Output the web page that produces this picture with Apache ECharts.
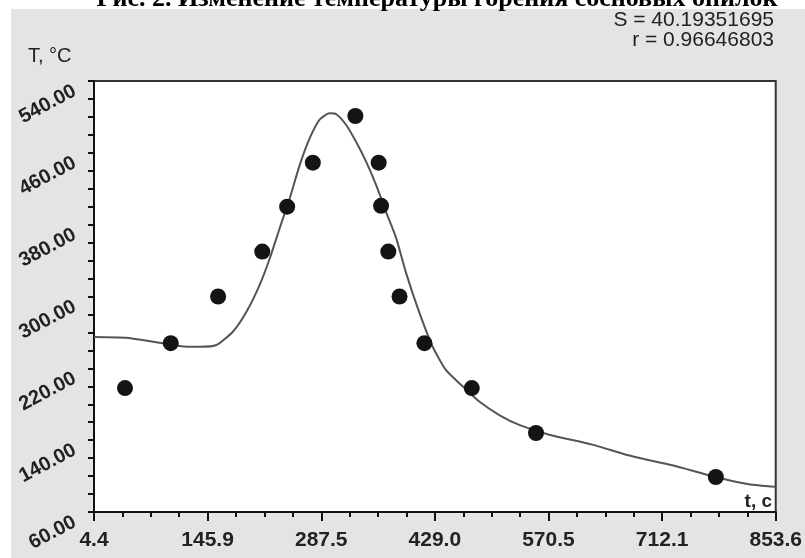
<!DOCTYPE html>
<html>
<head>
<meta charset="utf-8">
<script src="https://cdn.jsdelivr.net/npm/echarts@6/dist/echarts.min.js"></script>
<style>
  html, body { margin: 0; padding: 0; background: #fff; }
  #chart { width: 805px; height: 558px; }
</style>
</head>
<body>
<div id="chart"></div>
<script>
// measured points (time, s / temperature, °C)
const pointT = [43, 100, 159, 214, 245, 277, 330, 359, 362, 371, 385, 416, 475, 555, 779]
const pointTemp = [198, 248, 300, 350, 400, 449, 501, 449, 401, 350, 300, 248, 198, 148, 99]

// fitted curve
const curveT = [4.4, 45, 111, 136, 157, 177.6, 194.3, 210.8, 223.2, 235.7, 248.1, 260.5, 273, 285.4,
  297.8, 306.2, 318.6, 331, 343.5, 355.9, 368.3, 380.8, 393.2, 409.7, 426.3, 442.9, 463.6, 484.3,
  509.2, 534.1, 571.4, 625.2, 674.9, 724.7, 778.6, 820, 853.6]
const curveTemp = [255, 254, 245, 244, 246, 261, 283, 313, 342, 376, 409, 446, 476, 497,
  504, 503, 491, 472, 450, 424, 394, 365, 326, 282, 244, 218, 200, 183,
  168, 157, 146, 135, 122, 112, 99, 91, 88]

// axis ticks
const xTicks = [4.4, 145.9, 287.5, 429.0, 570.5, 712.1, 853.6]
const yTicks = [60, 140, 220, 300, 380, 460, 540]

const titleText = 'Рис. 2. Изменение температуры горения сосновых опилок'
const statS = 'S = 40.19351695'
const statR = 'r = 0.96646803'

function subdivide(ticks, parts) {
  const out = []
  for (let i = 0; i < ticks.length - 1; i++) {
    const step = (ticks[i + 1] - ticks[i]) / parts
    for (let k = 1; k < parts; k++) out.push(ticks[i] + step * k)
  }
  return out
}

const xMinor = subdivide(xTicks, 4)
const yAllTicks = yTicks.concat(subdivide(yTicks, 4))

const labelFont = '"Liberation Sans", Arial, sans-serif'

const chart = echarts.init(document.getElementById('chart'))

chart.setOption({
  animation: false,
  backgroundColor: '#e4e4e4',
  grid: {
    left: 94, right: 28, top: 81, bottom: 46,
    show: true,
    backgroundColor: '#fff',
    borderColor: '#333',
    borderWidth: 2,
  },
  xAxis: [{
    type: 'value',
    position: 'bottom',
    min: 4.4,
    max: 853.6,
    axisLine: { onZero: false, lineStyle: { color: '#111', width: 2 } },
    axisTick: { customValues: xTicks, length: 9, lineStyle: { color: '#111', width: 2 } },
    axisLabel: {
      customValues: xTicks,
      formatter: v => v.toFixed(1),
      margin: 18,
      fontFamily: labelFont,
      fontWeight: 'bold',
      fontSize: 21,
      color: '#222',
    },
    splitLine: { show: false },
  }, {
    type: 'value',
    position: 'bottom',
    min: 4.4,
    max: 853.6,
    axisLine: { show: false },
    axisTick: { customValues: xMinor, length: 5, lineStyle: { color: '#111', width: 2 } },
    axisLabel: { show: false },
    splitLine: { show: false },
  }],
  yAxis: {
    type: 'value',
    min: 60,
    max: 540,
    axisLine: { show: true, onZero: false, lineStyle: { color: '#111', width: 2 } },
    axisTick: { show: true, customValues: yAllTicks, length: 6, lineStyle: { color: '#111', width: 2 } },
    axisLabel: {
      customValues: yTicks,
      formatter: v => v.toFixed(2),
      rotate: 28,
      margin: 24,
      verticalAlign: 'top',
      fontFamily: labelFont,
      fontWeight: 'bold',
      fontSize: 20,
      color: '#222',
    },
    splitLine: { show: false },
  },
  graphic: [
    { type: 'rect', shape: { x: 0, y: 0, width: 11, height: 558 }, style: { fill: '#fff' } },
    { type: 'rect', shape: { x: 0, y: 0, width: 805, height: 9 }, style: { fill: '#fff' } },
    {
      type: 'text', x: 437, y: -1,
      style: { text: titleText, font: 'bold 26px "Liberation Serif", "Times New Roman", serif', fill: '#000', align: 'center', verticalAlign: 'middle' },
    },
    {
      type: 'text', x: 774, y: 20,
      style: { text: statS, font: '21px ' + labelFont, fill: '#222', align: 'right', verticalAlign: 'middle' },
    },
    {
      type: 'text', x: 774, y: 40,
      style: { text: statR, font: '21px ' + labelFont, fill: '#222', align: 'right', verticalAlign: 'middle' },
    },
    {
      type: 'text', x: 28, y: 56,
      style: { text: 'T, °C', font: '20px ' + labelFont, fill: '#222', align: 'left', verticalAlign: 'middle' },
    },
    {
      type: 'text', x: 772, y: 502,
      style: { text: 't, c', font: 'bold 19px ' + labelFont, fill: '#222', align: 'right', verticalAlign: 'middle' },
      z: 10,
    },
  ],
  series: [{
    type: 'line',
    xAxisIndex: 0,
    data: curveT.map((t, i) => [t, curveTemp[i]]),
    showSymbol: false,
    smooth: 0.2,
    lineStyle: { color: '#555', width: 2 },
    z: 2,
  }, {
    type: 'scatter',
    xAxisIndex: 0,
    data: pointT.map((t, i) => [t, pointTemp[i]]),
    symbolSize: 16,
    itemStyle: { color: '#141414', opacity: 1 },
    z: 3,
  }],
})
</script>
</body>
</html>
